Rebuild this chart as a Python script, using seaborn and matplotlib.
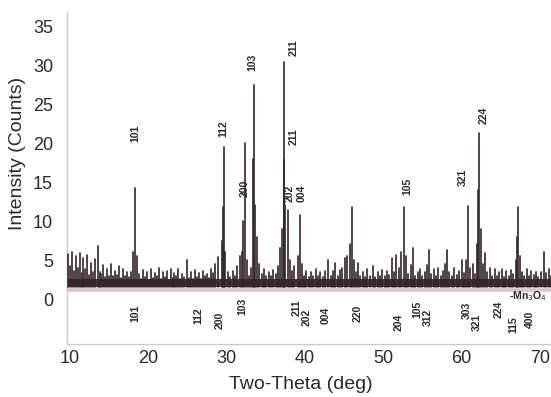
import matplotlib
matplotlib.use("Agg")
import matplotlib.pyplot as plt
import seaborn as sns
import pandas as pd

# ---- data (x in the displayed 2-theta units) ----
peak_pos = [18.15, 18.37, 18.6,
            29.4, 29.6, 29.73, 29.88,
            31.95, 32.15, 32.4, 32.6,
            33.4, 33.55, 33.7, 33.94,
            36.9, 37.15, 37.3, 37.38, 37.55, 37.89, 38.1,
            39.1, 39.42, 39.65,
            45.4, 45.75, 46.05, 46.3,
            52.3, 52.68, 52.9,
            60.6, 60.85, 61.1,
            62.0, 62.15, 62.25, 62.45,
            66.9, 67.1, 67.23, 67.45]
peak_int = [6.0, 14.2, 5.5,
            7.5, 11.8, 19.5, 6.0,
            6.0, 10.0, 20.0, 5.0,
            18.0, 27.4, 12.0, 8.0,
            6.5, 9.0, 17.8, 30.4, 12.0, 11.4, 5.0,
            5.5, 10.8, 4.5,
            5.5, 7.0, 11.8, 5.0,
            6.0, 11.8, 5.5,
            5.0, 11.9, 4.0,
            7.0, 14.0, 21.3, 9.0,
            5.0, 8.0, 11.8, 5.5]

bg_pos = [9.8, 10.05, 10.3, 10.55, 10.8, 11.05, 11.3, 11.55, 11.8, 12.05, 12.3,
          12.55, 12.8, 13.05, 13.3, 13.65, 13.85, 14.05, 14.3, 14.55, 14.8,
          15.05, 15.3, 15.55, 15.8, 16.05, 16.3, 16.55, 16.8, 17.05, 17.3,
          17.55, 17.8, 18.9, 19.15, 19.4, 19.65, 19.9, 20.15, 20.4, 20.65,
          20.9, 21.15, 21.4, 21.65, 21.9, 22.15, 22.4, 22.65, 22.9, 23.15,
          23.4, 23.65, 23.9, 24.15, 24.4, 24.65, 25.0, 25.25, 25.5, 25.75,
          26.0, 26.25, 26.5, 26.75, 27.0, 27.25, 27.5, 27.75, 28.0, 28.25,
          28.6, 29.0, 30.2, 30.5, 30.8, 31.1, 31.4, 31.7, 32.9, 33.2,
          34.2, 34.5, 34.8, 35.1, 35.4, 35.7, 36.0, 36.3, 36.6, 38.4,
          38.7, 39.9, 40.2, 40.5, 40.8, 41.1, 41.4, 41.7, 42.0, 42.3,
          42.6, 42.99, 43.3, 43.6, 43.88, 44.2, 44.5, 44.8, 45.1, 46.55,
          46.8, 47.1, 47.4, 47.7, 48.0, 48.3, 48.7, 49.0, 49.3, 49.6,
          49.9, 50.2, 50.5, 50.8, 51.1, 51.4, 51.7, 52.0, 53.2, 53.5,
          53.83, 54.1, 54.4, 54.7, 55.0, 55.3, 55.6, 55.87, 56.15, 56.45,
          56.75, 57.05, 57.35, 57.65, 57.9, 58.17, 58.45, 58.75, 59.05, 59.4,
          59.7, 60.0, 60.3, 61.45, 61.75, 62.7, 63.02, 63.3, 63.6, 63.9,
          64.2, 64.5, 64.8, 65.1, 65.4, 65.7, 66.0, 66.3, 66.6, 67.7,
          68.0, 68.3, 68.6, 68.9, 69.2, 69.5, 69.8, 70.1, 70.54, 70.8,
          71.1, 71.35]
bg_int = [5.8, 4.2, 6.0, 3.6, 5.5, 4.0, 5.9, 3.3, 5.2, 3.8, 5.6,
          3.1, 4.6, 3.5, 5.1, 6.8, 3.4, 3.2, 4.4, 2.8, 3.9,
          3.0, 4.5, 2.9, 3.6, 3.1, 4.2, 2.7, 3.8, 3.0, 3.4,
          2.8, 3.5, 3.2, 2.6, 3.7, 2.8, 3.4, 2.5, 3.9, 2.7,
          3.3, 2.9, 4.0, 2.6, 3.5, 2.8, 3.6, 2.5, 3.9, 2.7,
          3.3, 2.9, 3.8, 2.6, 3.2, 2.8, 5.0, 2.7, 3.4, 2.6,
          3.7, 2.8, 3.3, 2.6, 3.6, 2.9, 3.2, 2.7, 3.9, 3.3,
          4.5, 5.4, 3.4, 2.8, 3.6, 2.9, 4.2, 5.5, 3.0, 4.0,
          4.5, 3.2, 3.8, 2.9, 3.5, 3.0, 3.7, 3.2, 4.2, 3.6,
          4.2, 3.0, 3.6, 2.8, 3.4, 2.9, 3.8, 3.0, 3.5, 2.8,
          3.6, 5.0, 3.0, 3.6, 4.6, 2.9, 3.7, 4.0, 5.2, 3.4,
          4.6, 2.9, 3.5, 2.8, 3.9, 3.0, 4.2, 2.8, 3.5, 3.0,
          3.7, 2.9, 3.6, 3.1, 5.2, 3.4, 5.6, 4.0, 3.2, 4.4,
          6.5, 3.0, 3.5, 3.8, 2.9, 3.4, 4.4, 6.3, 3.2, 3.8,
          2.9, 4.0, 3.0, 3.6, 4.5, 6.3, 3.5, 2.9, 4.0, 3.1,
          3.6, 5.0, 3.3, 4.5, 3.2, 4.5, 5.9, 3.5, 4.0, 3.0,
          3.8, 2.9, 3.5, 3.9, 2.8, 3.6, 3.0, 3.7, 3.2, 3.4,
          3.0, 3.8, 2.9, 3.6, 3.1, 3.5, 2.8, 3.4, 6.0, 3.3,
          3.8, 3.0]
baseline = 1.5
floor_top = 2.6

upper_hkl = ["101", "112", "200", "103", "211", "211", "202", "004", "105", "321", "224"]
upper_x = [18.37, 29.6, 32.28, 33.3, 38.53, 38.53, 38.02, 39.55, 53.07, 60.21, 62.76]
upper_y = [21.3, 21.9, 14.2, 30.3, 32.2, 20.8, 13.6, 13.6, 14.4, 15.6, 23.6]

lower_hkl = ["101", "112", "200", "103", "211", "202", "004", "220", "204", "105",
             "312", "303", "321", "224", "115", "400"]
lower_x = [18.37, 26.41, 29.22, 32.02, 38.91, 40.31, 42.61, 46.69, 51.92, 54.34,
           55.75, 60.72, 62.0, 64.68, 66.59, 68.76]
lower_y = [-1.9, -2.2, -2.7, -1.0, -1.1, -2.4, -2.1, -1.8, -3.0, -1.3,
           -2.4, -1.4, -3.0, -1.3, -3.3, -2.6]

phase_label = "Mn$_3$O$_4$"
phase_x, phase_y = 66.0, 0.35

x_ticks = [10, 20, 30, 40, 50, 60, 70]
y_ticks = [0, 5, 10, 15, 20, 25, 30, 35]

# ---- drawing ----
sns.set_style("white")
plt.rcParams["font.family"] = ["Liberation Sans", "DejaVu Sans"]

fig = plt.figure(figsize=(5.51, 3.97), dpi=100)
ax = fig.add_axes([67 / 551, 1 - 344 / 397, 484 / 551, 332 / 397])

spike_x = peak_pos + bg_pos
spike_y = peak_int + bg_int
n = len(spike_x)
spikes = pd.DataFrame({
    "two_theta": spike_x + spike_x,
    "intensity": [baseline] * n + spike_y,
    "spike": list(range(n)) + list(range(n)),
})

line_col = "#33242a"
ax.axhline(1.1, color="#d3c9c9", lw=2.6, zorder=1)
ax.fill_between([min(spike_x), max(spike_x)], baseline, floor_top,
                color=line_col, alpha=0.92, lw=0, zorder=2)
sns.lineplot(data=spikes, x="two_theta", y="intensity", units="spike",
             estimator=None, sort=False, color=line_col, lw=1.2, ax=ax,
             legend=False, zorder=3)

txt_col = "#2a2a2a"
for lab, x, y in zip(upper_hkl, upper_x, upper_y):
    ax.text(x, y, lab, rotation=90, ha="center", va="center", fontsize=7.5,
            fontweight="bold", color=txt_col)
for lab, x, y in zip(lower_hkl, lower_x, lower_y):
    ax.text(x, y, lab, rotation=90, ha="center", va="center", fontsize=7.5,
            fontweight="bold", color=txt_col)
ax.text(phase_x, phase_y, "-" + phase_label, ha="left", va="center", fontsize=7.5,
        fontweight="bold", color=txt_col, clip_on=False)

ax.set_xlim(9.7, 71.4)
ax.set_ylim(-5.77, 36.8)
ax.set_xticks(x_ticks)
ax.set_yticks(y_ticks)
ax.tick_params(axis="both", labelsize=13, colors="#2a2a2a", length=3,
               direction="in", color="#c9c0c0")
ax.tick_params(axis="x", pad=4)
ax.tick_params(axis="y", pad=10)

for side in ["top", "right"]:
    ax.spines[side].set_visible(False)
for side in ["left", "bottom"]:
    ax.spines[side].set_color("#cfc6c6")
    ax.spines[side].set_linewidth(1.0)

ax.set_xlabel("Two-Theta (deg)", fontsize=14, color="#2a2a2a")
ax.set_ylabel("Intensity (Counts)", fontsize=14, color="#2a2a2a")
ax.xaxis.set_label_coords(0.483, -0.095)
ax.yaxis.set_label_coords(-0.085, 0.575)

fig.savefig("out.png", dpi=100)
